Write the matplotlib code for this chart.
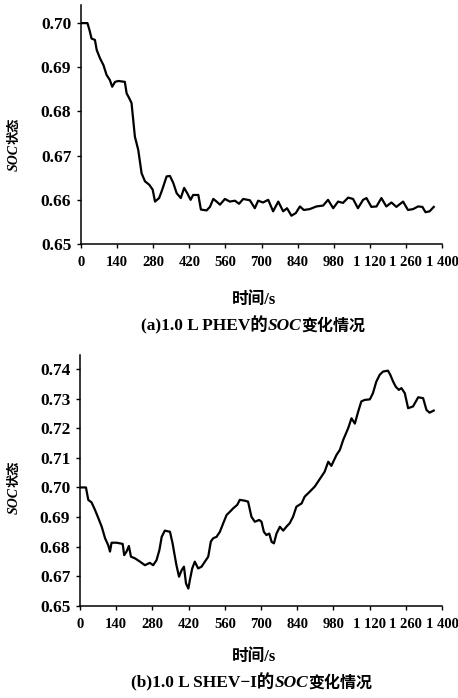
import matplotlib
matplotlib.use("Agg")
import matplotlib.pyplot as plt
from matplotlib.offsetbox import TextArea, HPacker, AnnotationBbox

# ---------------- data ----------------
t_a = [0, 25, 33, 41, 54, 61, 74, 87, 99, 112, 121, 132, 145, 170, 177, 187, 196,
       209, 222, 235, 248, 265, 278, 287, 303, 315, 332, 345, 358, 371, 387, 400,
       412, 425, 435, 455, 465, 487, 500, 513, 526, 539, 558, 577, 597, 613, 629,
       655, 674, 687, 706, 726, 745, 765, 784, 799, 816, 833, 849, 864, 887, 913,
       939, 958, 978, 997, 1016, 1036, 1055, 1074, 1094, 1107, 1126, 1146, 1165,
       1184, 1204, 1223, 1249, 1268, 1288, 1307, 1324, 1336, 1352, 1368]
soc_a = [0.7000, 0.7000, 0.6984, 0.6965, 0.6962, 0.6939, 0.6920, 0.6905, 0.6883,
         0.6871, 0.6856, 0.6867, 0.6869, 0.6867, 0.6841, 0.6830, 0.6819, 0.6743,
         0.6713, 0.6660, 0.6642, 0.6634, 0.6623, 0.6596, 0.6604, 0.6623, 0.6653,
         0.6654, 0.6638, 0.6615, 0.6604, 0.6627, 0.6615, 0.6600, 0.6611, 0.6611,
         0.6578, 0.6576, 0.6584, 0.6602, 0.6596, 0.6589, 0.6602, 0.6596, 0.6598,
         0.6591, 0.6602, 0.6599, 0.6581, 0.6598, 0.6594, 0.6600, 0.6574, 0.6596,
         0.6574, 0.6581, 0.6564, 0.6570, 0.6585, 0.6577, 0.6579, 0.6585, 0.6587,
         0.6600, 0.6581, 0.6596, 0.6593, 0.6605, 0.6602, 0.6581, 0.6600, 0.6604,
         0.6584, 0.6585, 0.6604, 0.6585, 0.6594, 0.6584, 0.6596, 0.6577, 0.6579,
         0.6585, 0.6584, 0.6572, 0.6574, 0.6584]

t_b = [0, 23, 32, 45, 58, 71, 84, 97, 109, 116, 122, 142, 165, 171, 180, 189, 197,
       213, 232, 251, 270, 283, 296, 307, 316, 328, 348, 358, 367, 373, 383, 393,
       402, 410, 419, 425, 434, 444, 457, 470, 483, 496, 506, 515, 528, 541, 554,
       567, 580, 592, 608, 618, 638, 650, 663, 676, 693, 702, 711, 721, 732, 741,
       750, 760, 773, 786, 798, 811, 824, 837, 857, 869, 889, 908, 927, 946, 960,
       972, 992, 1005, 1018, 1037, 1050, 1063, 1076, 1088, 1101, 1121, 1133, 1146,
       1159, 1172, 1191, 1200, 1211, 1221, 1233, 1243, 1256, 1269, 1288, 1308,
       1327, 1340, 1352, 1368]
soc_b = [0.7000, 0.7000, 0.6958, 0.6949, 0.6924, 0.6896, 0.6867, 0.6828, 0.6805,
         0.6783, 0.6813, 0.6813, 0.6809, 0.6771, 0.6783, 0.6802, 0.6766, 0.6760,
         0.6749, 0.6737, 0.6745, 0.6737, 0.6754, 0.6788, 0.6833, 0.6854, 0.6850,
         0.6811, 0.6766, 0.6737, 0.6698, 0.6720, 0.6732, 0.6675, 0.6658, 0.6687,
         0.6726, 0.6749, 0.6726, 0.6732, 0.6749, 0.6766, 0.6817, 0.6828, 0.6833,
         0.6850, 0.6879, 0.6907, 0.6918, 0.6929, 0.6941, 0.6958, 0.6955, 0.6952,
         0.6901, 0.6884, 0.6890, 0.6884, 0.6850, 0.6839, 0.6844, 0.6816, 0.6811,
         0.6844, 0.6867, 0.6854, 0.6867, 0.6879, 0.6901, 0.6935, 0.6946, 0.6969,
         0.6986, 0.7003, 0.7028, 0.7053, 0.7087, 0.7073, 0.7110, 0.7127, 0.7161,
         0.7200, 0.7234, 0.7216, 0.7257, 0.7291, 0.7296, 0.7298, 0.7319, 0.7358,
         0.7381, 0.7392, 0.7395, 0.7381, 0.7358, 0.7341, 0.7330, 0.7336, 0.7319,
         0.7268, 0.7274, 0.7305, 0.7302, 0.7262, 0.7253, 0.7260]

x_ticks = [0, 140, 280, 420, 560, 700, 840, 980, 1120, 1260, 1400]
x_tick_labels = ["0", "140", "280", "420", "560", "700", "840", "980",
                 "1 120", "1 260", "1 400"]
ya_ticks = [0.65, 0.66, 0.67, 0.68, 0.69, 0.70]
ya_labels = ["0.65", "0.66", "0.67", "0.68", "0.69", "0.70"]
yb_ticks = [0.66, 0.67, 0.68, 0.69, 0.70, 0.71, 0.72, 0.73, 0.74]
yb_labels = ["0.65", "0.67", "0.68", "0.69", "0.70", "0.71", "0.72", "0.73", "0.74"]

cap_a = ["(a)1.0 L PHEV的", "SOC", "变化情况"]
cap_b = ["(b)1.0 L SHEV\u2212I的", "SOC", "变化情况"]
xlab = "时间/s"
ylab = ["SOC", "状态"]

# ---------------- figure ----------------
W, H = 458, 698
fig = plt.figure(figsize=(W / 100, H / 100), dpi=100)
SERIF = ["Liberation Serif", "Noto Sans CJK SC"]
CJK = ["Noto Sans CJK SC", "Liberation Serif"]


def px(x, y):
    return (x / W, 1 - y / H)


def make_axes(left, top, right, bottom):
    return fig.add_axes([left / W, 1 - bottom / H, (right - left) / W, (bottom - top) / H])


def style(ax, ylim, yt, yl):
    ax.set_xlim(0, 1400)
    ax.set_ylim(*ylim)
    ax.spines["top"].set_visible(False)
    ax.spines["right"].set_visible(False)
    for s in ("left", "bottom"):
        ax.spines[s].set_linewidth(1.1)
    ax.set_xticks(x_ticks)
    ax.set_xticklabels(x_tick_labels, family="Liberation Serif", weight="bold", fontsize=10.5)
    ax.set_yticks(yt)
    ax.set_yticklabels(yl, family="Liberation Serif", weight="bold", fontsize=12.5)
    ax.tick_params(axis="x", direction="out", length=3, width=1, pad=6)
    ax.tick_params(axis="y", direction="out", length=3, width=1, pad=4)


def caption(pieces, cx, cy):
    props = [dict(family=SERIF, weight="bold", size=12.5),
             dict(family="Liberation Serif", weight="bold", style="italic", size=12.5),
             dict(family=CJK, weight="bold", size=11.5)]
    boxes = [TextArea(p, textprops=pr) for p, pr in zip(pieces, props)]
    pack = HPacker(children=boxes, sep=0, pad=0, align="baseline")
    ab = AnnotationBbox(pack, px(cx, cy), xycoords="figure fraction",
                        box_alignment=(0.5, 0.5), frameon=False, pad=0)
    fig.add_artist(ab)


def xlabel(cx, cy):
    fig.text(*px(cx, cy), xlab, family=SERIF, weight="bold", fontsize=12,
             ha="center", va="center")


def ylabel(ax, cx, bottom):
    t = fig.text(*px(cx, bottom), ylab[0], family="Liberation Serif", weight="bold",
                 style="italic", fontsize=10, rotation=90, ha="center", va="bottom")
    ax.annotate(ylab[1], xy=(0.5, 1), xycoords=t, ha="center", va="bottom",
                rotation=90, family=CJK, weight="bold", fontsize=9.5,
                annotation_clip=False)


# panel (a)
ax1 = make_axes(81, 5, 442, 244)
ax1.plot(t_a, soc_a, color="black", lw=1.6)
style(ax1, (0.65, 0.7041), ya_ticks, ya_labels)

# panel (b)
ax2 = make_axes(80, 355, 442, 605.7)
ax2.plot(t_b, soc_b, color="black", lw=1.6)
style(ax2, (0.66, 0.7448), yb_ticks, yb_labels)

xlabel(254, 300)
caption(cap_a, 253, 325)
xlabel(254, 657)
caption(cap_b, 252, 682)

ylabel(ax1, 14, 171)
ylabel(ax2, 14, 514)

fig.savefig("out.png", dpi=100)
